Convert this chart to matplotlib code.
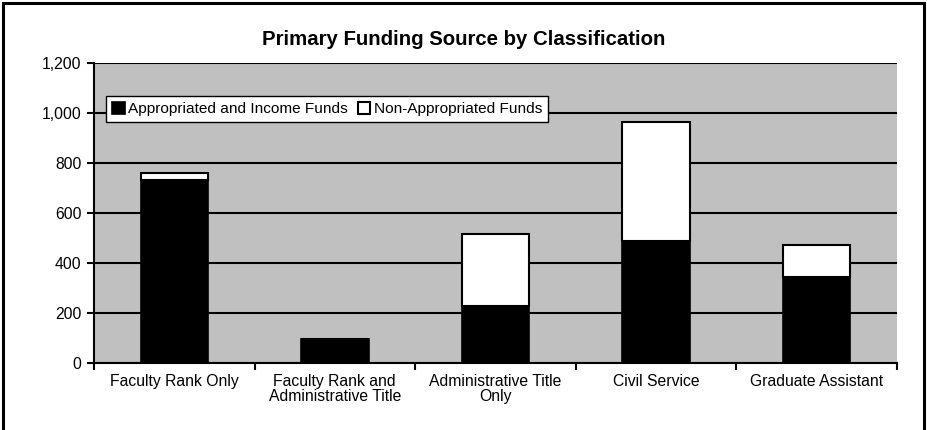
import matplotlib.pyplot as plt
import numpy as np
from matplotlib.patches import Rectangle

categories = ["Faculty Rank Only", "Faculty Rank and\nAdministrative Title",
              "Administrative Title\nOnly", "Civil Service", "Graduate Assistant"]
appropriated = [731, 95, 228, 488, 342]
non_appropriated = [29, 0, 287, 474, 129]
y_ticks = [0, 200, 400, 600, 800, 1000, 1200]

plt.rcParams.update({
	"font.family": ["Liberation Sans", "DejaVu Sans"],
	"font.size": 11.3,
})

fig = plt.figure(figsize=(9.27, 4.30), dpi=100)
ax = fig.add_axes([0.1014, 0.1565, 0.8659, 0.6977])
ax.set_facecolor("#C0C0C0")

x = np.arange(len(categories))
w = 0.42
ax.bar(x, appropriated, w, color="black", edgecolor="black", linewidth=1.2,
	label="Appropriated and Income Funds", zorder=3)
ax.bar(x, non_appropriated, w, bottom=appropriated, color="white", edgecolor="black",
	linewidth=1.5, label="Non-Appropriated Funds", zorder=3)

ax.set_xlim(-0.5, len(categories) - 0.5)
ax.set_ylim(0, 1200)
ax.set_yticks(y_ticks)
ax.set_yticklabels([f"{v:,}" for v in y_ticks])
ax.yaxis.grid(True, color="black", linewidth=1.5, zorder=1)
ax.set_axisbelow(True)

# labels at category centres, tick marks between categories
ax.set_xticks(x)
ax.set_xticklabels(categories, linespacing=1.05)
ax.set_xticks(np.arange(len(categories) + 1) - 0.5, minor=True)
ax.tick_params(axis="x", which="major", length=0, pad=8)
ax.tick_params(axis="x", which="minor", length=5, width=1.5, direction="out")
ax.tick_params(axis="y", length=5, width=1.5, direction="out", pad=4)

for s in ["top", "right"]:
	ax.spines[s].set_visible(False)
for s in ["left", "bottom"]:
	ax.spines[s].set_linewidth(1.5)
	ax.spines[s].set_zorder(4)

leg = ax.legend(loc="upper left", bbox_to_anchor=(0.015, 0.89), ncol=2, frameon=True,
	fancybox=False, framealpha=1, edgecolor="black", handlelength=0.8, handleheight=0.8,
	handletextpad=0.2, columnspacing=0.7, borderpad=0.4, borderaxespad=0, fontsize=11.1)
leg.get_frame().set_linewidth(1.0)

fig.text(0.5, 0.908, "Primary Funding Source by Classification", ha="center", va="center",
	fontsize=14.7, fontweight="bold")

# outer chart frame
fig.patches.append(Rectangle((3 / 927, -0.05), 921 / 927, 1.0 - 3 / 430 + 0.05, transform=fig.transFigure,
	fill=False, edgecolor="black", linewidth=2.2))

plt.savefig("out.png", dpi=100)
